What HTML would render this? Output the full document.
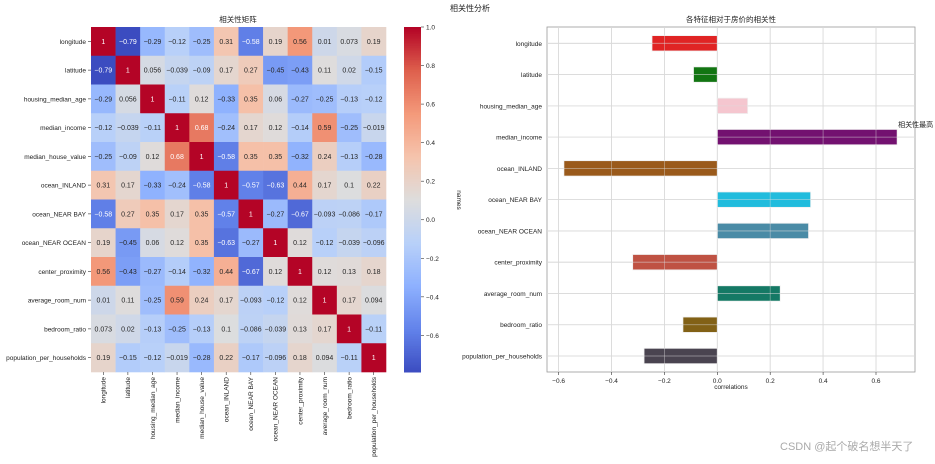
<!DOCTYPE html>
<html><head><meta charset="utf-8">
<style>
html,body{margin:0;padding:0;background:#fff;}
svg{display:block;font-family:"Liberation Sans","Noto Sans CJK SC",sans-serif;}
</style></head>
<body>
<svg id="chart" width="935" height="464" viewBox="0 0 935 464" xmlns="http://www.w3.org/2000/svg">
<text x="470" y="11" font-size="8" text-anchor="middle" fill="#222">相关性分析</text>
<text x="238" y="22" font-size="7.5" text-anchor="middle" fill="#222">相关性矩阵</text>
<text x="731" y="22" font-size="7.5" text-anchor="middle" fill="#222">各特征相对于房价的相关性</text>
<g id="heat"></g>
<g id="cbar"></g>
<g id="bars"></g>
<text x="780" y="450" font-size="11" fill="#aaa">CSDN @起个破名想半天了</text>
</svg>
<script>
const features = ["longitude","latitude","housing_median_age","median_income","median_house_value","ocean_INLAND","ocean_NEAR BAY","ocean_NEAR OCEAN","center_proximity","average_room_num","bedroom_ratio","population_per_households"];
const corrMatrix = [
[1,-0.79,-0.29,-0.12,-0.25,0.31,-0.58,0.19,0.56,0.01,0.073,0.19],
[-0.79,1,0.056,-0.039,-0.09,0.17,0.27,-0.45,-0.43,0.11,0.02,-0.15],
[-0.29,0.056,1,-0.11,0.12,-0.33,0.35,0.06,-0.27,-0.25,-0.13,-0.12],
[-0.12,-0.039,-0.11,1,0.68,-0.24,0.17,0.12,-0.14,0.59,-0.25,-0.019],
[-0.25,-0.09,0.12,0.68,1,-0.58,0.35,0.35,-0.32,0.24,-0.13,-0.28],
[0.31,0.17,-0.33,-0.24,-0.58,1,-0.57,-0.63,0.44,0.17,0.1,0.22],
[-0.58,0.27,0.35,0.17,0.35,-0.57,1,-0.27,-0.67,-0.093,-0.086,-0.17],
[0.19,-0.45,0.06,0.12,0.35,-0.63,-0.27,1,0.12,-0.12,-0.039,-0.096],
[0.56,-0.43,-0.27,-0.14,-0.32,0.44,-0.67,0.12,1,0.12,0.13,0.18],
[0.01,0.11,-0.25,0.59,0.24,0.17,-0.093,-0.12,0.12,1,0.17,0.094],
[0.073,0.02,-0.13,-0.25,-0.13,0.1,-0.086,-0.039,0.13,0.17,1,-0.11],
[0.19,-0.15,-0.12,-0.019,-0.28,0.22,-0.17,-0.096,0.18,0.094,-0.11,1]
];
const cbarTicks = [1.0,0.8,0.6,0.4,0.2,0.0,-0.2,-0.4,-0.6];
const barNames = ["longitude","latitude","housing_median_age","median_income","ocean_INLAND","ocean_NEAR BAY","ocean_NEAR OCEAN","center_proximity","average_room_num","bedroom_ratio","population_per_households"];
const barValues = [-0.247,-0.09,0.115,0.68,-0.58,0.353,0.345,-0.32,0.238,-0.13,-0.277];
const barColors = ["#e02424","#127512","#f5c6cf","#731170","#9a5a1b","#21bcdd","#4a8ba6","#bf5243","#157965","#826116","#4a4450"];
const xTicks = [-0.6,-0.4,-0.2,0.0,0.2,0.4,0.6];

const NS="http://www.w3.org/2000/svg";
function mk(tag,attrs,parent,text){const e=document.createElementNS(NS,tag);for(const k in attrs)e.setAttribute(k,attrs[k]);if(text!==undefined)e.textContent=text;parent.appendChild(e);return e;}
const stops=[[0,[59,76,192]],[0.125,[98,130,234]],[0.25,[141,176,254]],[0.375,[184,208,249]],[0.5,[221,221,221]],[0.625,[245,196,173]],[0.75,[244,154,123]],[0.875,[222,96,77]],[1,[180,4,38]]];
function cmap(t){t=Math.max(0,Math.min(1,t));for(let i=1;i<stops.length;i++){if(t<=stops[i][0]){const a=stops[i-1],b=stops[i];const f=(t-a[0])/(b[0]-a[0]);const c=a[1].map((v,j)=>Math.round(v+(b[1][j]-v)*f));return `rgb(${c})`;}}return "rgb(180,4,38)";}
const vmin=-0.79,vmax=1;
const fmt=v=>String(v).replace('-','\u2212');

// heatmap
const hx0=91,hy0=27,cw=(386-91)/12,ch=(372-27)/12;
const heat=document.getElementById('heat');
corrMatrix.forEach((row,i)=>{row.forEach((v,j)=>{
  const t=(v-vmin)/(vmax-vmin);
  const r=mk('rect',{x:hx0+j*cw,y:hy0+i*ch,width:cw+0.3,height:ch+0.3,fill:cmap(t)},heat);
  
  
  const light=(t<0.15||t>0.8);
  const tx=mk('text',{x:hx0+j*cw+cw/2,y:hy0+i*ch+ch/2+2.5,'font-size':7,'text-anchor':'middle',fill:light?'#fff':'#262626'},heat,fmt(v));
  
  
});});
features.forEach((f,i)=>{
  const y=hy0+i*ch+ch/2;
  mk('line',{x1:hx0-3,x2:hx0,y1:y,y2:y,stroke:'#333','stroke-width':0.6},heat);
  const l=mk('text',{x:hx0-5,y:y+2.5,'font-size':6.5,'text-anchor':'end',fill:'#222'},heat,f);
  
  
  const x=hx0+i*cw+cw/2;
  mk('line',{x1:x,x2:x,y1:372,y2:375,stroke:'#333','stroke-width':0.6},heat);
  const xl=mk('text',{x:0,y:0,'font-size':6.5,'text-anchor':'end',fill:'#222',transform:`translate(${x+2.3},377) rotate(-90)`},heat,f);
  
  
});

// colorbar
const cb=document.getElementById('cbar');
const cbx=404,cbw=17,cby0=27,cby1=372;
for(let k=0;k<200;k++){const y=cby0+(cby1-cby0)*k/200;const t=1-k/200;mk('rect',{x:cbx,y:y,width:cbw,height:(cby1-cby0)/200+0.5,fill:cmap(t)},cb);}
const cyScale=v=>cby0+(vmax-v)/(vmax-vmin)*(cby1-cby0);
cbarTicks.forEach(v=>{const y=cyScale(v);mk('line',{x1:cbx+cbw,x2:cbx+cbw+3,y1:y,y2:y,stroke:'#333','stroke-width':0.6},cb);
  const t=mk('text',{x:cbx+cbw+5,y:y+2.5,'font-size':6.5,fill:'#222'},cb,fmt(v.toFixed(1)));
  
  });

// bar chart
const bars=document.getElementById('bars');
const ax0=547,ax1=915,ay0=27,ay1=372,zeroX=717.3,pxPer=264.5;
const xs=v=>zeroX+v*pxPer;
const rowY=i=>43.3+i*31.27;
mk('rect',{x:ax0,y:ay0,width:ax1-ax0,height:ay1-ay0,fill:'#fff',stroke:'#999','stroke-width':0.8},bars);
xTicks.forEach(v=>{const x=xs(v);mk('line',{x1:x,x2:x,y1:ay0,y2:ay1,stroke:'#d4d4d4','stroke-width':0.8},bars);
  mk('line',{x1:x,x2:x,y1:ay1,y2:ay1+3,stroke:'#333','stroke-width':0.6},bars);
  const t=mk('text',{x:x,y:ay1+11,'font-size':6.5,'text-anchor':'middle',fill:'#222'},bars,fmt(v.toFixed(1)));
  
  });
barNames.forEach((n,i)=>{const y=rowY(i);
  mk('line',{x1:ax0,x2:ax1,y1:y,y2:y,stroke:'#d4d4d4','stroke-width':0.8},bars);
  const t=mk('text',{x:ax0-5,y:y+2.5,'font-size':6.5,'text-anchor':'end',fill:'#222'},bars,n);
  
  });
barValues.forEach((v,i)=>{const y=rowY(i),h=15.4;const x=Math.min(xs(0),xs(v));
  const r=mk('rect',{x:x,y:y-h/2,width:Math.abs(xs(v)-xs(0)),height:h,fill:barColors[i],stroke:'#f0f0f0','stroke-width':0.8},bars);
  
  });
barNames.forEach((n,i)=>{const y=rowY(i);mk('line',{x1:ax0,x2:ax1,y1:y,y2:y,stroke:'rgba(220,220,220,0.6)','stroke-width':0.8},bars);});
xTicks.forEach(v=>{const x=xs(v);mk('line',{x1:x,x2:x,y1:ay0,y2:ay1,stroke:'rgba(220,220,220,0.5)','stroke-width':0.8},bars);});
let maxI=0;barValues.forEach((v,i)=>{if(v>barValues[maxI])maxI=i;});
const ann=mk('text',{x:xs(barValues[maxI])+1,y:rowY(maxI)-10,'font-size':7,fill:'#222'},bars,'相关性最高');


const xl=mk('text',{x:731,y:389,'font-size':6.5,'text-anchor':'middle',fill:'#222'},bars,'correlations');


const yl=mk('text',{x:0,y:0,'font-size':6.5,'text-anchor':'middle',fill:'#222',transform:'translate(457,200) rotate(90)'},bars,'names');


</script>
</body></html>
